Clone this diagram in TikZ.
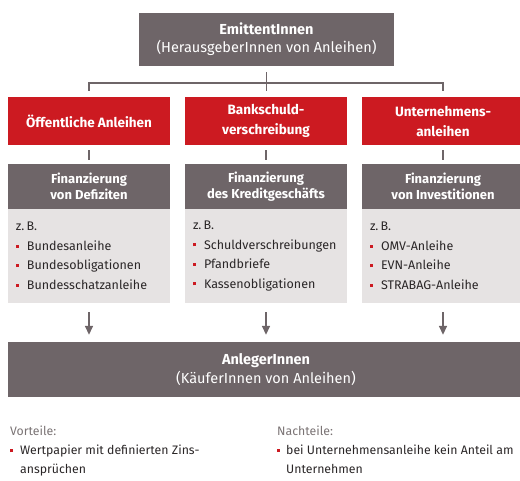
\documentclass[tikz,border=0pt]{standalone}
\usepackage{fontspec}
\setmainfont{Fira Sans}
\usetikzlibrary{arrows.meta}

\definecolor{anlgray}{HTML}{6E6568}
\definecolor{anlred}{HTML}{CC1A21}
\definecolor{anllight}{HTML}{E6E3E3}
\definecolor{anltext}{HTML}{2A2627}
\definecolor{anlnote}{HTML}{7A7374}
\newcommand{\redsq}[1][11pt]{\makebox[#1][l]{\textcolor{anlred}{\rule[0.22em]{3pt}{3pt}}}}

\begin{document}
\begin{tikzpicture}[x=1pt,y=-1pt,
  box/.style={rectangle,inner sep=0pt,align=center,text=white},
  headbox/.style={box,fill=anlgray,minimum width=162pt,minimum height=45pt,
    font=\fontsize{13}{16}\selectfont\bfseries},
  redbox/.style={box,fill=anlred,minimum width=162pt,minimum height=48pt,
    font=\fontsize{13.5}{20}\selectfont\bfseries},
  listbox/.style={rectangle,fill=anllight,text=anltext,align=left,text width=146pt,
    inner xsep=8pt,inner ysep=0pt,minimum height=94pt,font=\fontsize{12.5}{19.5}\selectfont},
  link/.style={draw=anlgray,line width=1.6pt},
  note/.style={inner sep=0pt,align=left,text=anltext,font=\fontsize{12.3}{19}\selectfont}]
\useasboundingbox (0,0) rectangle (520,480);

% top and bottom
\node[box,fill=anlgray,minimum width=255pt,minimum height=53pt,
  font=\fontsize{14.5}{18}\selectfont] (emit) at (266.5,39.5)
  {\textbf{EmittentInnen}\\(HerausgeberInnen von Anleihen)};
\node[box,fill=anlgray,minimum width=516pt,minimum height=55pt,
  font=\fontsize{14.5}{19}\selectfont] (anleger) at (266,369.5)
  {\textbf{AnlegerInnen}\\(KäuferInnen von Anleihen)};

% the three kinds of bonds
\node[redbox] (red1) at (89,121) {Öffentliche Anleihen};
\node[redbox] (red2) at (266,121) {Bankschuld-\\verschreibung};
\node[redbox] (red3) at (443,121) {Unternehmens-\\anleihen};

\node[headbox] (hd1) at (89,186.5) {Finanzierung\\von Defiziten};
\node[headbox] (hd2) at (266,186.5) {Finanzierung\\des Kreditgeschäfts};
\node[headbox] (hd3) at (443,186.5) {Finanzierung\\von Investitionen};

\node[listbox] (ls1) at (89,256) {z.\,B.\\\redsq Bundesanleihe\\\redsq Bundesobligationen\\\redsq Bundesschatzanleihe};
\node[listbox] (ls2) at (266,256) {z.\,B.\\\redsq Schuldverschreibungen\\\redsq Pfandbriefe\\\redsq Kassenobligationen};
\node[listbox] (ls3) at (443,256) {z.\,B.\\\redsq OMV-Anleihe\\\redsq EVN-Anleihe\\\redsq STRABAG-Anleihe};

% connectors
\coordinate (bar) at (266,83);
\draw[link,shorten <=6pt,shorten >=6pt] (emit.south) -- (emit.south |- red2.north);
\draw[link,shorten <=6pt,shorten >=6pt] (red1.north) |- (bar) -| (red3.north);
\draw[link,shorten <=5pt,shorten >=4pt] (red1.south) -- (hd1.north);
\draw[link,shorten <=5pt,shorten >=4pt] (red2.south) -- (hd2.north);
\draw[link,shorten <=5pt,shorten >=4pt] (red3.south) -- (hd3.north);
\draw[link,-{Triangle[length=9pt,width=8pt]},shorten <=9pt,shorten >=7pt] (ls1.south) -- (anleger.north -| ls1.south);
\draw[link,-{Triangle[length=9pt,width=8pt]},shorten <=9pt,shorten >=7pt] (ls2.south) -- (anleger.north -| ls2.south);
\draw[link,-{Triangle[length=9pt,width=8pt]},shorten <=9pt,shorten >=7pt] (ls3.south) -- (anleger.north -| ls3.south);

% pros and cons
\node[note,anchor=north west] (pro) at (10,426)
  {\textcolor{anlnote}{Vorteile:}\\\redsq[10pt]Wertpapier mit definierten Zins-\\\hspace*{10pt}ansprüchen};
\node[note,anchor=north west] (con) at (277,426)
  {\textcolor{anlnote}{Nachteile:}\\\redsq[9pt]bei Unternehmensanleihe kein Anteil am\\\hspace*{9pt}Unternehmen};
\end{tikzpicture}
\end{document}
